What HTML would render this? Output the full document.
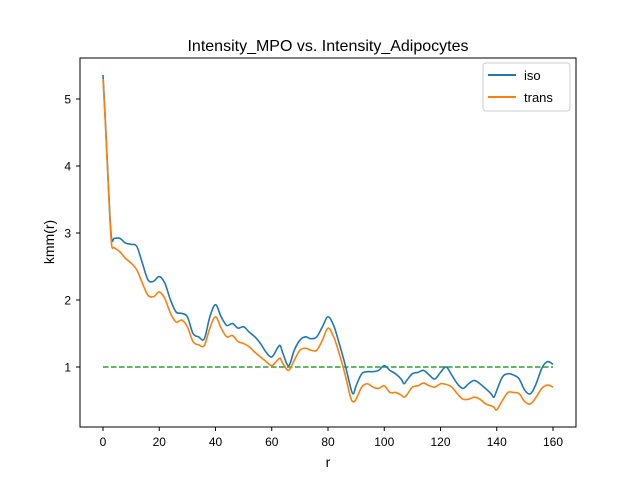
<!DOCTYPE html>
<html><head><meta charset="utf-8"><style>
body{margin:0;background:#fff}
svg text{font-family:"Liberation Sans","DejaVu Sans",sans-serif;fill:#000}
</style></head><body>
<svg id="c" width="640" height="480" xmlns="http://www.w3.org/2000/svg">
<rect width="640" height="480" fill="#fff"/>
<text x="328" y="51" font-size="16" text-anchor="middle">Intensity_MPO vs. Intensity_Adipocytes</text>
<g id="plot"></g>
<rect x="80" y="58" width="496" height="369" fill="none" stroke="#000" stroke-width="1"/>
<g id="ticks"></g>
<text x="328" y="467" font-size="14" text-anchor="middle">r</text>
<text x="0" y="0" font-size="14" text-anchor="middle" transform="translate(54,242) rotate(-90)">kmm(r)</text>
<g>
<rect x="483" y="63" width="87" height="48" rx="3" fill="#fff" stroke="#ccc"/>
<line x1="488" y1="75" x2="516" y2="75" stroke="#1f77b4" stroke-width="2"/>
<text x="524" y="80" font-size="13">iso</text>
<line x1="488" y1="97" x2="516" y2="97" stroke="#ff7f0e" stroke-width="2"/>
<text x="524" y="102" font-size="13">trans</text>
</g>
</svg>
<script>
const rVals=[0,1,2,3,4,6,8,10,12,14,16,18,20,22,24,26,28,30,32,34,36,38,40,42,44,46,48,50,52,54,56,58,60,62,63,64,66,68,70,72,74,76,78,80,82,84,86,88,89,90,92,94,96,98,100,102,104,106,107,108,110,112,114,116,118,120,122,124,126,128,130,132,134,136,138,139,140,142,144,146,148,150,152,154,156,158,160];
const isoVals=[5.36,4.54,3.64,2.93,2.92,2.92,2.85,2.83,2.8,2.55,2.3,2.28,2.35,2.25,2.0,1.82,1.8,1.75,1.5,1.45,1.42,1.75,1.93,1.75,1.62,1.65,1.58,1.6,1.52,1.45,1.35,1.22,1.15,1.28,1.32,1.2,1.02,1.25,1.4,1.45,1.42,1.45,1.6,1.75,1.62,1.35,1.05,0.7,0.6,0.72,0.9,0.93,0.93,0.95,1.02,0.95,0.9,0.82,0.75,0.8,0.9,0.92,0.95,0.88,0.82,0.92,1.0,0.88,0.75,0.68,0.75,0.8,0.75,0.68,0.6,0.55,0.65,0.85,0.9,0.88,0.82,0.65,0.6,0.75,0.98,1.08,1.04];
const transVals=[5.3,4.5,3.6,2.85,2.78,2.72,2.62,2.55,2.45,2.25,2.07,2.05,2.12,2.02,1.8,1.67,1.7,1.6,1.38,1.33,1.32,1.58,1.75,1.58,1.45,1.47,1.38,1.35,1.3,1.22,1.15,1.08,1.02,1.1,1.13,1.05,0.95,1.1,1.25,1.28,1.25,1.25,1.4,1.58,1.45,1.2,0.9,0.55,0.48,0.52,0.7,0.75,0.7,0.68,0.72,0.62,0.62,0.58,0.55,0.58,0.7,0.72,0.76,0.72,0.7,0.75,0.74,0.7,0.6,0.52,0.52,0.55,0.52,0.45,0.42,0.4,0.36,0.5,0.62,0.62,0.6,0.48,0.45,0.55,0.68,0.73,0.7];
const refLevel=1;
const xTicks=[0,20,40,60,80,100,120,140,160];
const yTicks=[1,2,3,4,5];
const NS="http://www.w3.org/2000/svg";
const X=v=>103+v*2.8125, Y=v=>367-(v-1)*67;
function pathD(xs,ys){
 const p=xs.map((x,i)=>[X(x),Y(ys[i])]);let d=`M${p[0][0]},${p[0][1]}`;
 for(let i=0;i<p.length-1;i++){const p0=p[i-1]||p[i],p1=p[i],p2=p[i+1],p3=p[i+2]||p2;
  d+=` C${p1[0]+(p2[0]-p0[0])/6},${p1[1]+(p2[1]-p0[1])/6} ${p2[0]-(p3[0]-p1[0])/6},${p2[1]-(p3[1]-p1[1])/6} ${p2[0]},${p2[1]}`;}
 return d;}
const plot=document.getElementById('plot');
const ref=document.createElementNS(NS,'line');
ref.setAttribute('x1',X(0));ref.setAttribute('x2',X(160));ref.setAttribute('y1',Y(refLevel));ref.setAttribute('y2',Y(refLevel));
ref.setAttribute('stroke','#2ca02c');ref.setAttribute('stroke-width','1.5');ref.setAttribute('stroke-dasharray','5.5,2.5');


plot.appendChild(ref);
[[isoVals,'#1f77b4','iso-line'],[transVals,'#ff7f0e','trans-line']].forEach(([vals,col,name])=>{
 const el=document.createElementNS(NS,'path');
 el.setAttribute('d',pathD(rVals,vals));el.setAttribute('fill','none');el.setAttribute('stroke',col);el.setAttribute('stroke-width','1.6');
 
 
 plot.appendChild(el);});
const tk=document.getElementById('ticks');
xTicks.forEach(v=>{
 const l=document.createElementNS(NS,'line');l.setAttribute('x1',X(v));l.setAttribute('x2',X(v));l.setAttribute('y1',427);l.setAttribute('y2',431);l.setAttribute('stroke','#000');
 
 
 tk.appendChild(l);
 const t=document.createElementNS(NS,'text');t.setAttribute('x',X(v));t.setAttribute('y',446);t.setAttribute('font-size','12');t.setAttribute('text-anchor','middle');t.textContent=v;
 
 
 tk.appendChild(t);});
yTicks.forEach(v=>{
 const l=document.createElementNS(NS,'line');l.setAttribute('x1',76);l.setAttribute('x2',80);l.setAttribute('y1',Y(v));l.setAttribute('y2',Y(v));l.setAttribute('stroke','#000');
 
 
 tk.appendChild(l);
 const t=document.createElementNS(NS,'text');t.setAttribute('x',71);t.setAttribute('y',Y(v)+4.5);t.setAttribute('font-size','12');t.setAttribute('text-anchor','end');t.textContent=v;
 
 
 tk.appendChild(t);});
</script>
</body></html>
